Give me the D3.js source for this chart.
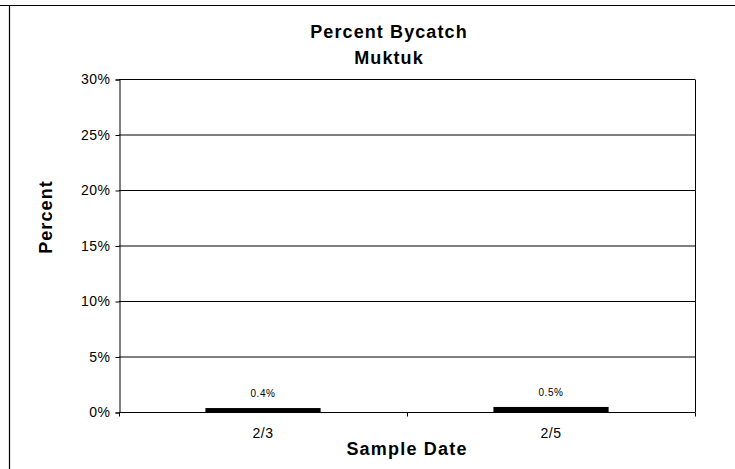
<!DOCTYPE html>
<html>
<head>
<meta charset="utf-8">
<script src="https://cdn.jsdelivr.net/npm/d3@7"></script>
<style>
  html, body { margin: 0; padding: 0; background: #fff; }
  svg { display: block; font-family: "Liberation Sans", Arial, sans-serif; }
</style>
</head>
<body>
<svg id="chart" width="735" height="469"></svg>
<script>
// Sample dates and the percent bycatch measured on each
const categories = ["2/3", "2/5"];
const values = [0.4, 0.5];
const yTicks = [0, 5, 10, 15, 20, 25, 30];
const titleLines = ["Percent Bycatch", "Muktuk"];

const svg = d3.select("#chart");
const margin = { left: 119, right: 40, top: 79, bottom: 57 };
const W = 735, H = 469;
const x0 = margin.left, x1 = W - margin.right;
const y0 = H - margin.bottom, y1 = margin.top;

const x = d3.scaleBand().domain(categories).range([x0, x1])
  .paddingInner(0.6).paddingOuter(0.3);
const y = d3.scaleLinear().domain([0, 30]).range([y0 + 0.5, y1 + 0.5]);

// outer chart frame (top and left edges)
svg.append("line").attr("x1", 0).attr("x2", W).attr("y1", 5.5).attr("y2", 5.5)
  .attr("stroke", "#000").attr("stroke-width", 1.2);
svg.append("line").attr("x1", 9.5).attr("x2", 9.5).attr("y1", 5).attr("y2", H)
  .attr("stroke", "#000").attr("stroke-width", 1.2);

// horizontal gridlines
svg.append("g").selectAll("line").data(yTicks).join("line")
  .attr("x1", x0).attr("x2", x1)
  .attr("y1", d => y(d)).attr("y2", d => y(d))
  .attr("stroke", "#000").attr("stroke-width", 1);

// plot area right edge
svg.append("line").attr("x1", x1 + 0.5).attr("x2", x1 + 0.5)
  .attr("y1", y(30)).attr("y2", y(0))
  .attr("stroke", "#000").attr("stroke-width", 1);

// y axis
const yAxis = d3.axisLeft(y).tickValues(yTicks).tickSize(4).tickPadding(5)
  .tickFormat(d => d + "%");
const gy = svg.append("g").attr("transform", `translate(${x0 + 0.5},0)`).call(yAxis);
gy.attr("font-size", null).attr("font-family", null);
gy.select(".domain").attr("stroke", "#000");
gy.selectAll(".tick line").attr("stroke", "#000");
gy.selectAll("text")
  .style("font-size", "14px")
  .style("letter-spacing", "0.5px")
  .attr("fill", "#000");

// bars
svg.append("g").selectAll("rect").data(values).join("rect")
  .attr("x", (d, i) => x(categories[i]))
  .attr("width", x.bandwidth())
  .attr("y", d => y(d))
  .attr("height", d => y(0) - y(d))
  .attr("fill", "#000");

// value labels
svg.append("g").selectAll("text").data(values).join("text")
  .attr("x", (d, i) => x(categories[i]) + x.bandwidth() / 2)
  .attr("y", d => y(d) - 11)
  .attr("text-anchor", "middle")
  .style("font-size", "10px")
  .style("letter-spacing", "0.6px")
  .text(d => d.toFixed(1) + "%");

// x axis: category ticks sit between bands
const gx = svg.append("g").attr("transform", `translate(0,${y(0)})`);
gx.append("line").attr("x1", x0).attr("x2", x1).attr("stroke", "#000");
gx.selectAll("line.tick").data([x0, (x0 + x1) / 2, x1]).join("line")
  .attr("class", "tick")
  .attr("x1", d => d + 0.5).attr("x2", d => d + 0.5)
  .attr("y1", 0).attr("y2", 4).attr("stroke", "#000");
gx.selectAll("text").data(categories).join("text")
  .attr("x", d => x(d) + x.bandwidth() / 2)
  .attr("y", 25)
  .attr("text-anchor", "middle")
  .style("font-size", "14px")
  .style("letter-spacing", "0.5px")
  .text(d => d);

// titles
svg.append("g").selectAll("text").data(titleLines).join("text")
  .attr("x", 389)
  .attr("y", (d, i) => 38 + i * 26)
  .attr("text-anchor", "middle")
  .style("font-size", "18px")
  .attr("font-weight", "bold")
  .style("letter-spacing", "1.1px")
  .text(d => d);

svg.append("text")
  .attr("x", 407).attr("y", 455)
  .attr("text-anchor", "middle")
  .style("font-size", "18px").attr("font-weight", "bold")
  .style("letter-spacing", "1.2px")
  .text("Sample Date");

svg.append("text")
  .attr("transform", "translate(52,217) rotate(-90)")
  .attr("text-anchor", "middle")
  .style("font-size", "18px").attr("font-weight", "bold")
  .style("letter-spacing", "1.1px")
  .text("Percent");
</script>
</body>
</html>
